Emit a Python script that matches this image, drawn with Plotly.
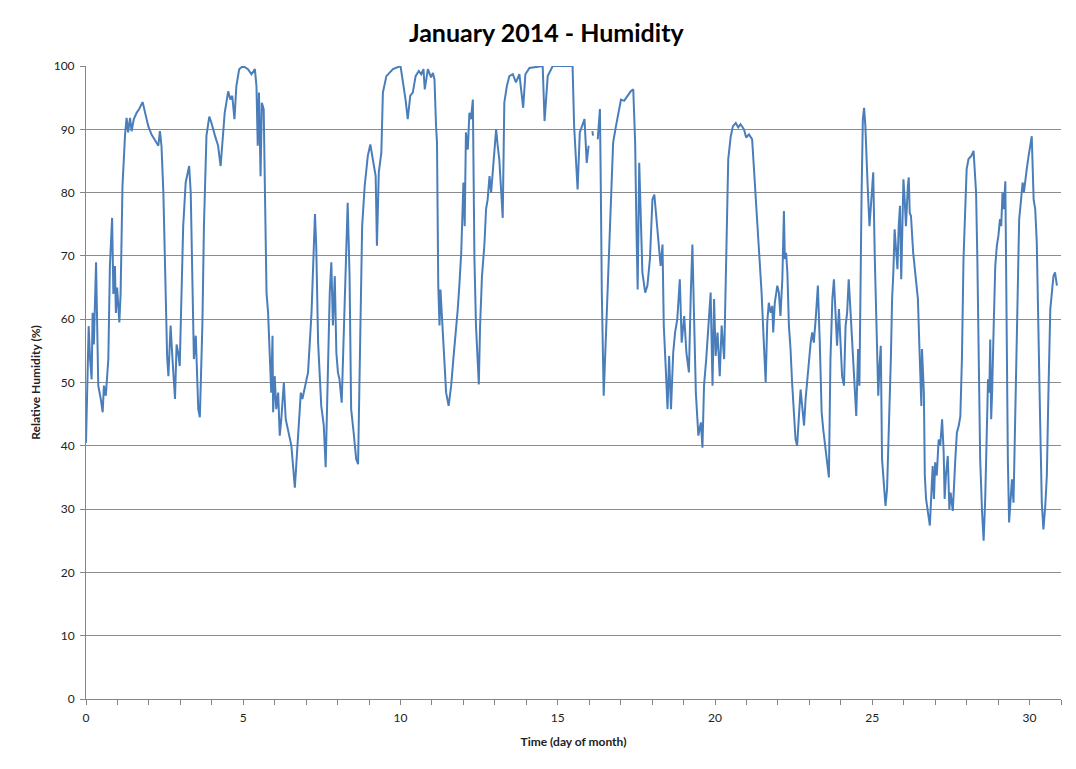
import plotly.graph_objects as go

# Time in days since start of month, relative humidity in %
days = [0.00, 0.085, 0.13, 0.18, 0.21, 0.25, 0.32, 0.36, 0.39, 0.47, 0.53, 0.57, 0.63, 0.71, 0.76, 0.83,
        0.87, 0.92, 0.95, 0.99, 1.06, 1.10, 1.16, 1.24, 1.29, 1.34, 1.40, 1.45, 1.52, 1.61, 1.69, 1.80,
        1.87, 1.98, 2.08, 2.19, 2.30, 2.35, 2.40, 2.46, 2.51, 2.58, 2.62, 2.69, 2.75, 2.83, 2.88, 2.93,
        2.98, 3.04, 3.09, 3.17, 3.28, 3.33, 3.39, 3.43, 3.49, 3.57, 3.62, 3.70, 3.75, 3.83, 3.92, 3.99,
        4.10, 4.20, 4.28, 4.34, 4.41, 4.52, 4.59, 4.65, 4.72, 4.78, 4.87, 4.99, 5.15, 5.26, 5.37, 5.42,
        5.46, 5.50, 5.55, 5.59, 5.65, 5.69, 5.74, 5.79, 5.84, 5.89, 5.93, 5.95, 6.00, 6.05, 6.11, 6.16,
        6.21, 6.29, 6.35, 6.42, 6.53, 6.64, 6.74, 6.83, 6.88, 6.95, 7.06, 7.17, 7.22, 7.28, 7.32, 7.38,
        7.48, 7.56, 7.62, 7.69, 7.75, 7.80, 7.85, 7.91, 7.96, 8.01, 8.06, 8.13, 8.19, 8.25, 8.32, 8.38,
        8.43, 8.51, 8.59, 8.65, 8.70, 8.78, 8.86, 8.96, 9.04, 9.12, 9.21, 9.25, 9.31, 9.39, 9.44, 9.55,
        9.76, 10.00, 10.07, 10.16, 10.23, 10.31, 10.39, 10.48, 10.58, 10.66, 10.73, 10.77, 10.87, 10.97,
        11.03, 11.08, 11.13, 11.16, 11.20, 11.24, 11.27, 11.32, 11.40, 11.45, 11.53, 11.61, 11.68, 11.75,
        11.82, 11.87, 11.93, 12.00, 12.04, 12.08, 12.14, 12.19, 12.24, 12.30, 12.35, 12.40, 12.49, 12.53,
        12.59, 12.67, 12.72, 12.77, 12.83, 12.88, 12.95, 13.04, 13.09, 13.14, 13.25, 13.30, 13.38, 13.46,
        13.57, 13.67, 13.78, 13.90, 13.97, 14.10, 14.52, 14.58, 14.68, 14.84, 15.37, 15.47, 15.52, 15.63,
        15.70, 15.79, 15.85, 15.92, 15.98, 16.04, 16.10, 16.12, 16.20, 16.27, 16.32, 16.34, 16.37, 16.40,
        16.46, 16.53, 16.61, 16.69, 16.76, 16.85, 16.93, 17.01, 17.11, 17.22, 17.32, 17.40, 17.46, 17.50,
        17.54, 17.59, 17.64, 17.69, 17.78, 17.85, 17.93, 18.01, 18.07, 18.14, 18.22, 18.27, 18.33, 18.37,
        18.43, 18.49, 18.54, 18.60, 18.67, 18.73, 18.80, 18.88, 18.94, 19.02, 19.09, 19.17, 19.23, 19.28,
        19.33, 19.39, 19.47, 19.55, 19.60, 19.65, 19.72, 19.79, 19.86, 19.92, 19.97, 20.02, 20.08, 20.15,
        20.21, 20.29, 20.34, 20.42, 20.50, 20.57, 20.66, 20.74, 20.81, 20.92, 20.99, 21.08, 21.18, 21.29,
        21.40, 21.48, 21.56, 21.61, 21.66, 21.71, 21.77, 21.82, 21.85, 21.90, 21.98, 22.03, 22.08, 22.14,
        22.19, 22.22, 22.26, 22.30, 22.35, 22.40, 22.45, 22.51, 22.56, 22.61, 22.67, 22.72, 22.77, 22.83,
        22.88, 22.93, 22.98, 23.04, 23.09, 23.14, 23.20, 23.27, 23.33, 23.39, 23.44, 23.51, 23.57, 23.62,
        23.67, 23.73, 23.78, 23.83, 23.88, 23.94, 23.99, 24.04, 24.10, 24.15, 24.20, 24.25, 24.31, 24.36,
        24.41, 24.49, 24.55, 24.59, 24.66, 24.70, 24.74, 24.78, 24.84, 24.91, 24.97, 25.03, 25.08, 25.13,
        25.19, 25.23, 25.27, 25.31, 25.37, 25.42, 25.47, 25.52, 25.59, 25.63, 25.67, 25.71, 25.76, 25.80,
        25.84, 25.88, 25.92, 25.96, 25.99, 26.03, 26.07, 26.13, 26.16, 26.19, 26.23, 26.30, 26.37, 26.42,
        26.45, 26.50, 26.56, 26.58, 26.64, 26.67, 26.71, 26.77, 26.83, 26.88, 26.92, 26.96, 27.00, 27.05,
        27.11, 27.16, 27.22, 27.27, 27.30, 27.34, 27.40, 27.45, 27.49, 27.56, 27.60, 27.64, 27.69, 27.75,
        27.80, 27.85, 27.90, 27.96, 28.00, 28.06, 28.15, 28.22, 28.30, 28.34, 28.38, 28.43, 28.49, 28.54,
        28.59, 28.65, 28.68, 28.72, 28.75, 28.78, 28.81, 28.86, 28.91, 28.96, 29.01, 29.06, 29.10, 29.14,
        29.18, 29.23, 29.27, 29.31, 29.35, 29.40, 29.44, 29.49, 29.54, 29.59, 29.63, 29.67, 29.73, 29.78,
        29.82, 29.86, 29.91, 29.97, 30.02, 30.07, 30.13, 30.18, 30.23, 30.29, 30.34, 30.39, 30.44, 30.50,
        30.55, 30.60, 30.66, 30.71, 30.76, 30.81, 30.87, 30.92]

humidity = [40.5, 58.9, 53.7, 50.5, 61.0, 56.0, 69.0, 53.7, 49.5, 47.4, 45.3, 49.5, 47.9, 53.7, 68.4, 76.0,
            64.0, 68.4, 61.0, 65.0, 59.5, 64.0, 81.0, 89.0, 91.8, 89.5, 91.8, 89.7, 91.6, 92.6, 93.2, 94.3,
            92.6, 90.5, 89.2, 88.4, 87.4, 89.7, 87.4, 80.0, 69.5, 54.0, 51.0, 59.0, 53.7, 47.4, 56.0, 54.7,
            52.6, 64.0, 74.7, 81.6, 84.2, 80.0, 60.5, 53.7, 57.4, 45.8, 44.5, 59.0, 74.7, 89.0, 92.0, 91.0,
            89.0, 87.4, 84.2, 88.4, 92.6, 96.0, 94.7, 95.3, 91.6, 96.8, 99.5, 100.0, 99.5, 98.7, 99.5, 96.8,
            87.4, 95.8, 82.6, 94.2, 93.2, 80.0, 64.2, 61.0, 55.3, 48.4, 57.4, 45.3, 51.0, 45.8, 48.4, 41.6,
            44.2, 50.0, 44.2, 42.6, 40.0, 33.4, 40.5, 48.4, 47.4, 49.0, 51.6, 61.0, 69.5, 76.6, 71.6, 56.3,
            46.3, 43.2, 36.6, 51.0, 64.2, 69.0, 59.0, 66.8, 54.7, 51.6, 50.5, 46.8, 57.9, 69.5, 78.4, 66.8,
            45.8, 42.1, 37.9, 37.1, 53.7, 74.7, 81.0, 85.8, 87.6, 85.3, 82.6, 71.6, 83.2, 86.3, 95.8, 98.4,
            99.5, 100.0, 97.9, 94.7, 91.6, 95.3, 95.8, 98.4, 99.2, 98.7, 99.5, 96.3, 99.5, 98.2,
            98.9, 97.9, 90.5, 87.9, 65.3, 59.0, 64.7, 60.5, 52.6, 48.4, 46.3, 49.5, 53.7, 57.4,
            61.6, 65.3, 70.5, 81.6, 74.7, 89.5, 86.8, 92.6, 91.6, 94.7, 69.5, 58.9, 49.7, 59.0,
            66.8, 72.0, 77.4, 78.9, 82.6, 80.0, 84.2, 90.0, 87.4, 85.3, 76.0, 94.2, 96.8, 98.4,
            98.7, 97.4, 98.7, 93.4, 98.7, 99.7, 100.0, 91.3, 98.4, 100.0, 100.0, 100.0, 90.5, 80.5,
            89.5, 91.0, 91.6, 84.7, 87.4, None, 89.7, 89.0, None, 88.4, 93.2, 93.2, 80.0, 64.2,
            47.9, 57.4, 69.5, 81.0, 87.9, 90.5, 92.6, 94.7, 94.5, 95.3, 96.0, 96.3, 87.9, 74.7,
            64.7, 84.7, 77.4, 67.4, 64.2, 65.3, 69.5, 78.9, 79.7, 75.8, 71.6, 68.4, 71.8, 59.0,
            52.6, 45.8, 54.2, 45.8, 54.7, 57.9, 60.0, 66.3, 56.3, 60.5, 54.7, 51.6, 64.2, 71.8,
            61.0, 48.4, 41.6, 43.7, 39.7, 49.5, 53.7, 59.0, 64.2, 49.5, 63.2, 54.2, 57.9, 51.0,
            59.0, 53.7, 64.2, 85.3, 88.9, 90.5, 91.0, 90.3, 90.8, 90.0, 88.7, 89.2, 88.4, 80.0,
            72.1, 64.2, 55.3, 50.0, 59.5, 62.6, 61.0, 62.1, 57.9, 62.6, 65.3, 64.2, 60.5, 66.3,
            77.1, 69.5, 70.5, 67.4, 58.9, 55.3, 50.0, 44.7, 41.0, 40.0, 45.3, 48.9, 46.3, 43.2,
            47.4, 50.5, 53.2, 56.3, 57.9, 56.3, 60.0, 65.3, 56.3, 45.3, 42.6, 39.5, 37.9, 35.0,
            53.7, 63.2, 66.3, 61.0, 55.8, 61.6, 55.8, 51.0, 49.5, 58.9, 61.0, 66.3, 61.0, 56.3,
            52.6, 44.7, 55.3, 49.5, 80.0, 91.6, 93.4, 90.5, 82.6, 74.7, 78.9, 83.2, 69.5, 58.9,
            47.9, 52.6, 55.8, 37.9, 33.7, 30.5, 33.2, 40.5, 53.7, 63.2, 67.4, 74.2, 69.5,
            67.9, 74.7, 77.9, 66.3, 74.7, 82.1, 78.9, 74.7, 81.0, 82.4, 76.8, 76.3, 70.5, 67.4,
            64.2, 63.2, 55.3, 46.3, 55.3, 48.4, 35.3, 31.6, 29.5, 27.4, 32.6, 36.8, 31.6, 37.4,
            35.3, 41.0, 40.0, 44.2, 38.9, 31.6, 35.3, 38.4, 30.0, 32.6, 29.7, 35.3, 37.9, 42.1,
            43.2, 44.7, 53.7, 69.5, 80.0, 83.7, 85.3, 85.8, 86.6, 80.0, 69.5, 53.7, 37.9, 29.5,
            25.0, 31.6, 43.2, 50.5, 48.4, 56.8, 44.2, 48.4, 58.9, 68.4, 71.6, 73.2, 75.8, 74.7,
            80.0, 77.4, 81.8, 58.9, 37.9, 27.9, 32.6, 34.7, 31.0, 43.2, 56.3, 68.4, 75.8, 78.9,
            81.6, 80.0, 82.1, 83.7, 85.8, 87.4, 88.9, 78.9, 77.4, 72.1, 58.9, 43.2, 31.0, 26.8,
            30.5, 35.3, 48.4, 61.6, 64.2, 66.8, 67.4, 65.3]

y_ticks = list(range(0, 101, 10))
x_ticks = [0, 5, 10, 15, 20, 25, 30]

font = "Lato, 'Open Sans', sans-serif"

fig = go.Figure()
fig.add_trace(go.Scatter(
    x=days,
    y=humidity,
    mode="lines",
    connectgaps=False,
    line=dict(color="#4a7ebb", width=2),
    showlegend=False,
))

# page body adds an 8px offset, so the figure is sized/margined to compensate
fig.update_layout(
    width=1068,
    height=761,
    margin=dict(l=78, r=15, t=58, b=70),
    paper_bgcolor="white",
    plot_bgcolor="white",
    font=dict(family=font, size=12, color="#222"),
    title=dict(
        text="<b>January 2014 - Humidity</b>",
        x=0.504, xanchor="center",
        y=0.967, yanchor="middle",
        font=dict(family=font, size=25, color="black"),
    ),
    xaxis=dict(
        range=[0, 31],
        tickvals=x_ticks,
        ticks="outside",
        ticklen=5,
        tickcolor="#868686",
        showgrid=False,
        showline=True,
        linecolor="#868686",
        linewidth=1,
        zeroline=False,
        ticklabelstandoff=3,
        minor=dict(dtick=1, ticks="outside", ticklen=5, tickcolor="#868686"),
        title=dict(text="<b>Time (day of month)</b>", font=dict(size=12), standoff=13),
        tickfont=dict(size=12),
    ),
    yaxis=dict(
        range=[0, 100],
        tickvals=y_ticks,
        ticks="outside",
        ticklen=5,
        tickcolor="#868686",
        showgrid=True,
        gridcolor="#8c8c8c",
        gridwidth=1,
        showline=True,
        linecolor="#868686",
        zeroline=False,
        ticklabelstandoff=3,
        title=dict(text="<b>Relative Humidity (%)</b>", font=dict(size=12), standoff=10),
        tickfont=dict(size=12),
    ),
)

fig.write_html("out.html")
